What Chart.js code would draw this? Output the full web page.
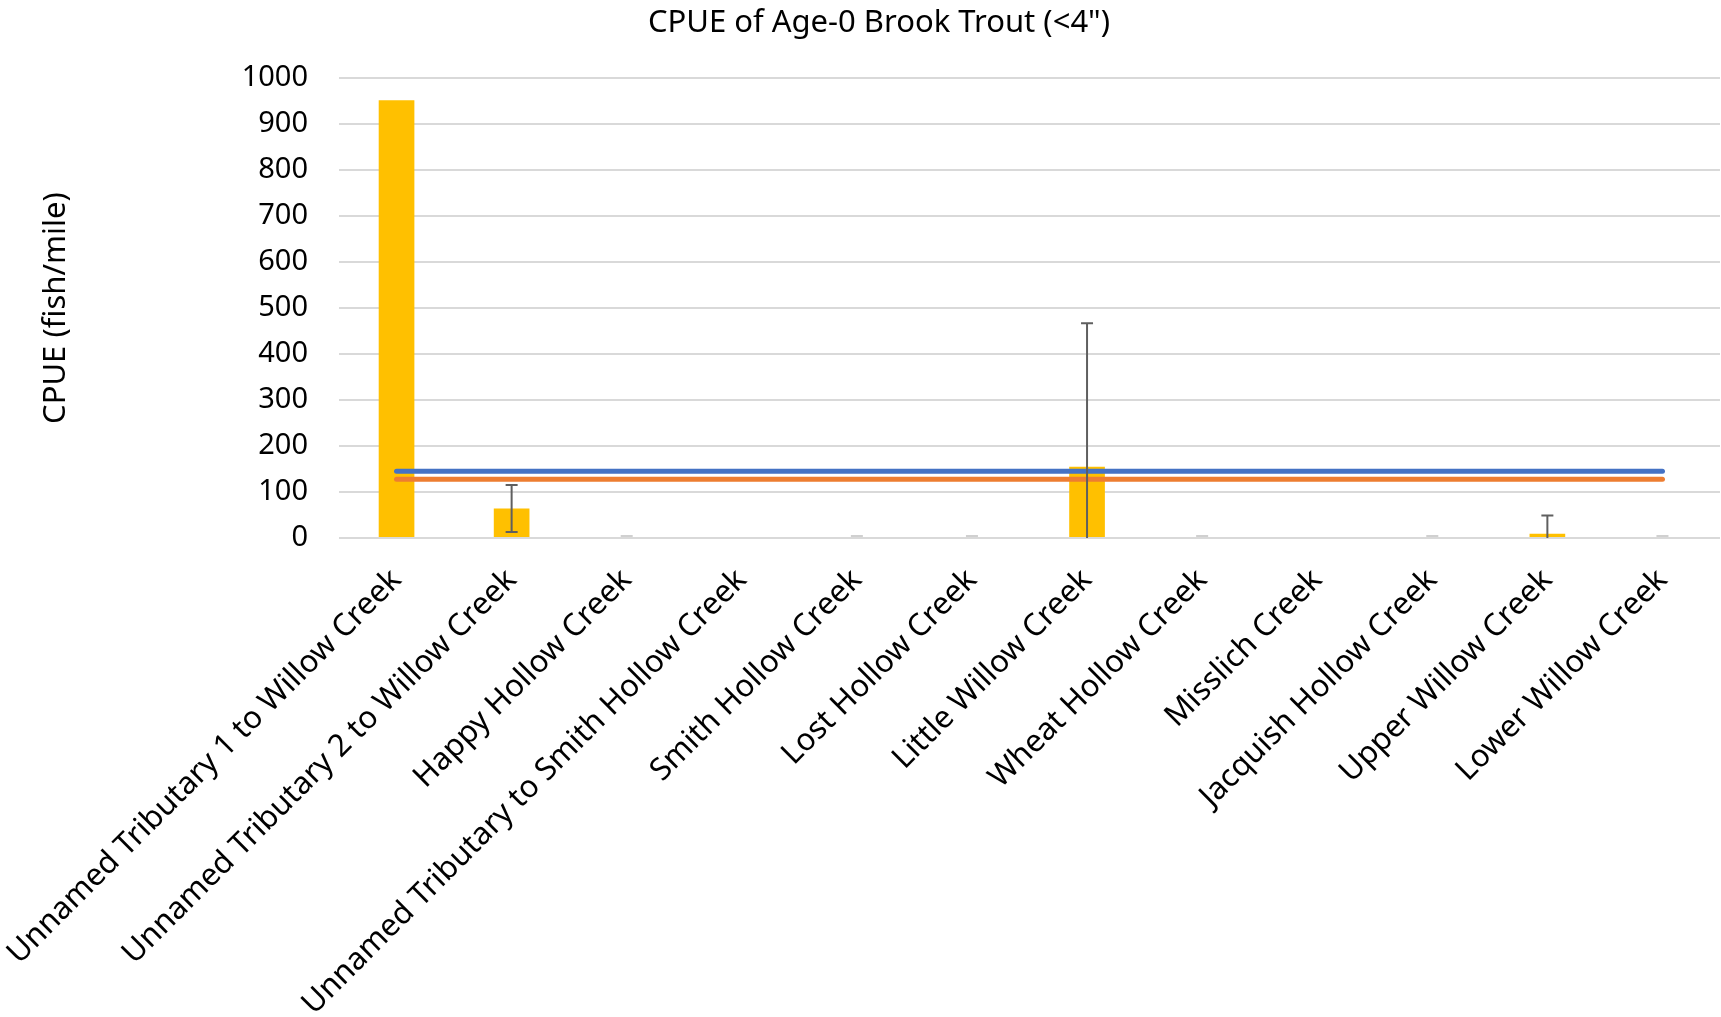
<!DOCTYPE html>
<html>
<head>
<meta charset="utf-8">
<script src="https://cdn.jsdelivr.net/npm/chart.js@4"></script>
<style>
  html, body { margin: 0; padding: 0; background: #fff; }
  #wrap { width: 1721px; height: 1017px; }
</style>
</head>
<body>
<div id="wrap"><canvas id="cpueChart" width="1721" height="1017"></canvas></div>
<script>
// Dados
const creeks = [
    'Unnamed Tributary 1 to Willow Creek',
    'Unnamed Tributary 2 to Willow Creek',
    'Happy Hollow Creek',
    'Unnamed Tributary to Smith Hollow Creek',
    'Smith Hollow Creek',
    'Lost Hollow Creek',
    'Little Willow Creek',
    'Wheat Hollow Creek',
    'Misslich Creek',
    'Jacquish Hollow Creek',
    'Upper Willow Creek',
    'Lower Willow Creek'
];
const cpue = [952, 64, 0, null, 0, 0, 155, 0, null, 0, 9, 0];
const cpueErr = [null, 51, 0, null, 0, 0, 312, 0, null, 0, 40, 0];
const meanA = [145, 145, 145, 145, 145, 145, 145, 145, 145, 145, 145, 145];
const meanB = [128, 128, 128, 128, 128, 128, 128, 128, 128, 128, 128, 128];
const yTicks = [0, 100, 200, 300, 400, 500, 600, 700, 800, 900, 1000];

const fontFamily = '"Noto Sans", sans-serif';

// Barras de erro desenhadas por cima
const errorBars = {
    id: 'errorBars',
    afterDatasetsDraw(chart) {
        const ctx = chart.ctx;
        const x = chart.scales.x;
        const y = chart.scales.y;
        const area = chart.chartArea;
        ctx.save();
        ctx.beginPath();
        ctx.rect(area.left, area.top - 20, area.right - area.left, area.bottom - area.top + 20);
        ctx.clip();
        cpueErr.forEach((err, i) => {
            if (err === null || cpue[i] === null) return;
            const px = x.getPixelForValue(i);
            const cap = 6;
            if (err === 0) {
                const py = y.getPixelForValue(cpue[i]) - 2;
                ctx.strokeStyle = '#d0d0d0';
                ctx.lineWidth = 2;
                ctx.beginPath();
                ctx.moveTo(px - cap, py);
                ctx.lineTo(px + cap, py);
                ctx.stroke();
                return;
            }
            const top = y.getPixelForValue(cpue[i] + err);
            const bot = y.getPixelForValue(cpue[i] - err);
            ctx.strokeStyle = '#5f5f5f';
            ctx.lineWidth = 2;
            ctx.beginPath();
            ctx.moveTo(px, top);
            ctx.lineTo(px, bot);
            ctx.moveTo(px - cap, top);
            ctx.lineTo(px + cap, top);
            ctx.moveTo(px - cap, bot);
            ctx.lineTo(px + cap, bot);
            ctx.stroke();
        });
        ctx.restore();
    }
};

const ctx = document.getElementById('cpueChart').getContext('2d');
const cpueChart = new Chart(ctx, {
    type: 'bar',
    data: {
        labels: creeks,
        datasets: [{
            type: 'line',
            label: 'Mean A',
            data: meanA,
            borderColor: '#4472C4',
            borderWidth: 5,
            borderCapStyle: 'round',
            pointRadius: 0,
            fill: false
        }, {
            type: 'line',
            label: 'Mean B',
            data: meanB,
            borderColor: '#ED7D31',
            borderWidth: 5,
            borderCapStyle: 'round',
            pointRadius: 0,
            fill: false
        }, {
            type: 'bar',
            label: 'CPUE',
            data: cpue,
            backgroundColor: '#FFC000',
            barPercentage: 0.31,
            categoryPercentage: 1
        }]
    },
    options: {
        responsive: false,
        animation: false,
        layout: { padding: { left: 38, right: 1, top: 0, bottom: 0 } },
        plugins: {
            legend: { display: false },
            tooltip: { enabled: false },
            title: {
                display: true,
                text: 'CPUE of Age-0 Brook Trout (<4")',
                color: '#000',
                font: { family: fontFamily, size: 31, weight: 'normal' },
                padding: { top: 5, bottom: 36 }
            }
        },
        scales: {
            x: {
                grid: { display: false },
                border: { display: false },
                ticks: {
                    autoSkip: false,
                    maxRotation: 45,
                    minRotation: 45,
                    color: '#000',
                    padding: 16,
                    font: { family: fontFamily, size: 31 }
                },
                afterFit(scale) {
                    scale.height = 479;
                    scale.paddingLeft = 0;
                    scale.paddingRight = 0;
                }
            },
            y: {
                min: 0,
                max: 1000,
                afterBuildTicks(scale) { scale.ticks = yTicks.map(v => ({ value: v })); },
                grid: { color: '#d9d9d9', lineWidth: 2, drawTicks: false },
                border: { display: false },
                ticks: {
                    color: '#000',
                    padding: 31,
                    font: { family: fontFamily, size: 29 },
                    callback: (v) => String(v)
                },
                title: {
                    display: true,
                    text: 'CPUE (fish/mile)',
                    color: '#000',
                    font: { family: fontFamily, size: 31 },
                    padding: 0
                },
                afterFit(scale) { scale.width = 301; }
            }
        }
    },
    plugins: [errorBars]
});
</script>
</body>
</html>
